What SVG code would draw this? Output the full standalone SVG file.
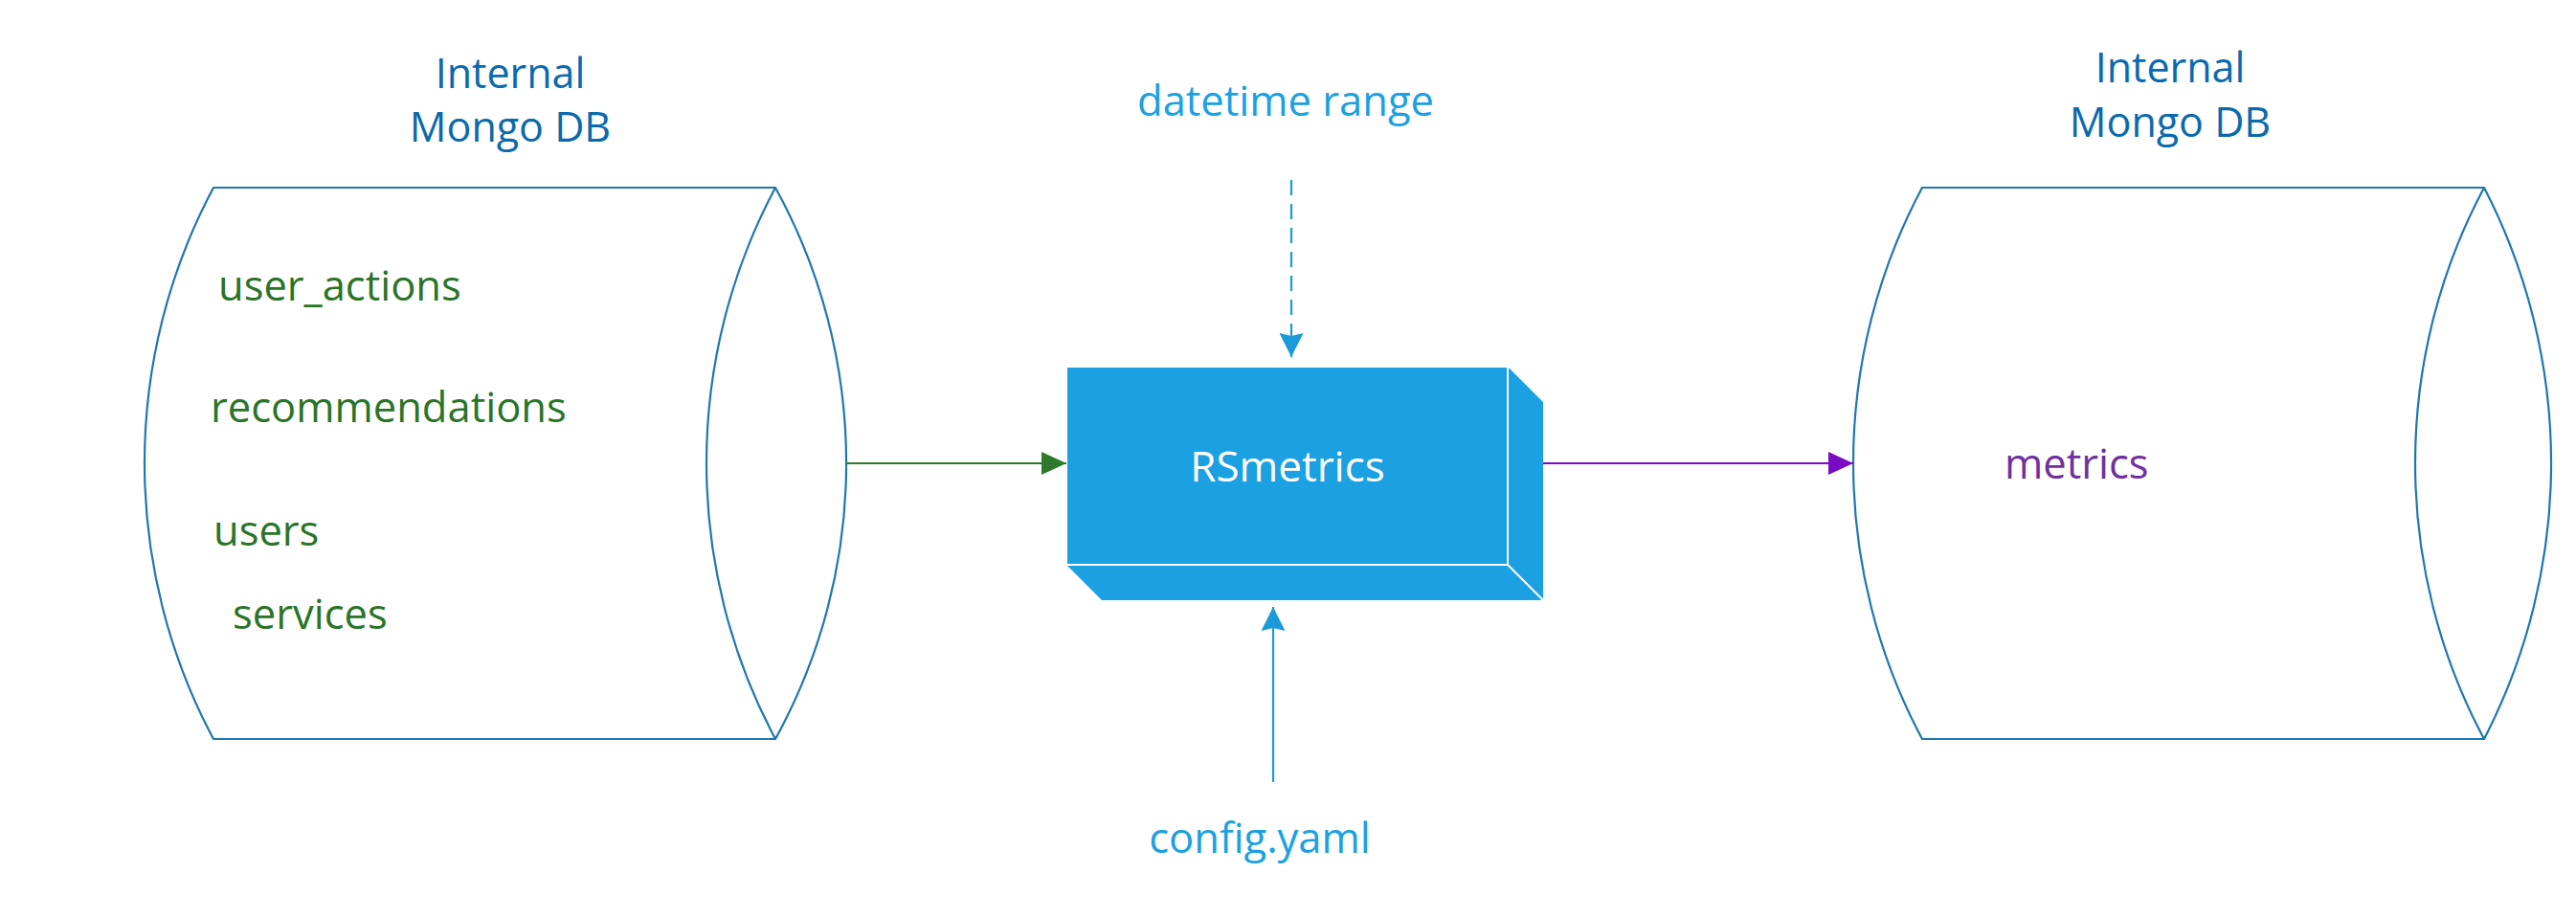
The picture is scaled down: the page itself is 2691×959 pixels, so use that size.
<svg xmlns="http://www.w3.org/2000/svg" width="2691" height="959" viewBox="0 0 2691 959">
<defs>
<style>
.db{fill:#ffffff;stroke:#1F77B0;stroke-width:2.2}
.arc{fill:none;stroke:#1F77B0;stroke-width:2.2}
.txt{font-family:"Open Sans","Liberation Sans",sans-serif;font-size:43.5px}
.hdr{fill:#0A6AAD;text-anchor:middle;font-size:43px}
.coll{fill:#2A7427}
.blue{fill:#1BA1E2}
.conn{fill:none;stroke-width:2.2}
</style>
<marker id="ag" markerWidth="26" markerHeight="24" refX="26" refY="12" orient="auto" markerUnits="userSpaceOnUse"><path d="M0,0L26,12L0,24z" fill="#2D7A2A"/></marker>
<marker id="ap" markerWidth="26" markerHeight="24" refX="26" refY="12" orient="auto" markerUnits="userSpaceOnUse"><path d="M0,0L26,12L0,24z" fill="#7B0BC2"/></marker>
<marker id="ab" markerWidth="25" markerHeight="25" refX="25" refY="12.5" orient="auto" markerUnits="userSpaceOnUse"><path d="M0,0L25,12.5L0,25L3,12.5z" fill="#1B9AD8"/></marker>
</defs>
<rect width="2691" height="959" fill="#ffffff"/>

<g id="source-db">
<path class="db" d="M223,196H810A597,597 0 0 1 810,772H223A612,612 0 0 1 223,196Z"/>
<path class="arc" d="M810,196A612,612 0 0 0 810,772"/>
<text class="txt hdr" x="533" y="92">Internal</text>
<text class="txt hdr" x="533" y="148">Mongo DB</text>
<text class="txt coll" x="228" y="314">user_actions</text>
<text class="txt coll" x="220" y="441">recommendations</text>
<text class="txt coll" x="223" y="570">users</text>
<text class="txt coll" x="243" y="657">services</text>
</g>

<g id="rsmetrics">
<polygon points="1575,383 1612,420 1612,627 1575,590" fill="#1BA1E2"/>
<polygon points="1114,590 1575,590 1612,627 1151,627" fill="#1BA1E2"/>
<rect x="1114" y="383" width="461" height="207" fill="#1BA1E2" stroke="#ffffff" stroke-width="2"/>
<line x1="1575" y1="590" x2="1612" y2="627" stroke="#ffffff" stroke-width="2"/>
<text class="txt" x="1345" y="503" fill="#ffffff" text-anchor="middle" style="font-size:44px">RSmetrics</text>
</g>

<g id="target-db">
<path class="db" d="M2008,196H2595A627,627 0 0 1 2595,772H2008A612,612 0 0 1 2008,196Z"/>
<path class="arc" d="M2595,196A612,612 0 0 0 2595,772"/>
<text class="txt hdr" x="2267" y="86">Internal</text>
<text class="txt hdr" x="2267" y="143">Mongo DB</text>
<text class="txt" x="2094" y="500" fill="#7030A0">metrics</text>
</g>

<g id="datetime-range">
<text class="txt blue" x="1343" y="121" text-anchor="middle">datetime range</text>
</g>
<g id="config">
<text class="txt blue" x="1316" y="891" text-anchor="middle">config.yaml</text>
</g>

<g id="connectors">
<line class="conn" x1="884" y1="484" x2="1114" y2="484" stroke="#2D7A2A" marker-end="url(#ag)"/>
<line class="conn" x1="1612" y1="484" x2="1936" y2="484" stroke="#7B0BC2" marker-end="url(#ap)"/>
<line class="conn" x1="1349" y1="188" x2="1349" y2="373" stroke="#1B9AD8" stroke-dasharray="16 9" marker-end="url(#ab)"/>
<line class="conn" x1="1330" y1="817" x2="1330" y2="634" stroke="#1B9AD8" marker-end="url(#ab)"/>
</g>
</svg>
